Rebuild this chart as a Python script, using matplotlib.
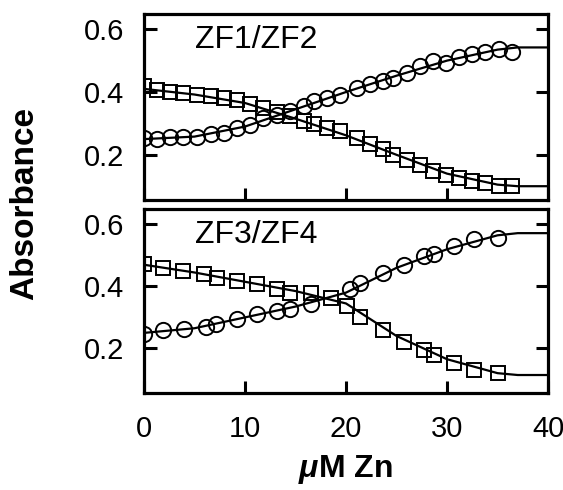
import matplotlib
matplotlib.use("Agg")
import matplotlib.pyplot as plt

plt.rcParams['font.family'] = ['Liberation Sans', 'DejaVu Sans']
plt.rcParams['mathtext.fontset'] = 'custom'
plt.rcParams['mathtext.it'] = 'Liberation Sans:italic:bold'
plt.rcParams['mathtext.rm'] = 'Liberation Sans:bold'

# ZF1/ZF2 titration (top panel)
zf12_circ_x = [0, 1.3, 2.6, 3.9, 5.2, 6.6, 7.9, 9.2, 10.5, 11.8, 13.2, 14.5, 15.8, 16.8,
               18.1, 19.4, 21.1, 22.4, 23.7, 24.7, 26.0, 27.3, 28.6, 29.9, 31.2, 32.5,
               33.8, 35.1, 36.4]
zf12_circ_y = [0.253, 0.25, 0.256, 0.256, 0.256, 0.266, 0.27, 0.285, 0.295, 0.318, 0.328,
               0.339, 0.355, 0.371, 0.382, 0.392, 0.414, 0.424, 0.435, 0.446, 0.462, 0.483,
               0.499, 0.494, 0.51, 0.52, 0.526, 0.536, 0.526]
zf12_sq_x = [0, 1.3, 2.6, 3.9, 5.2, 6.6, 7.9, 9.2, 10.5, 11.8, 13.2, 14.5, 15.8, 16.8,
             18.1, 19.4, 21.1, 22.4, 23.7, 24.7, 26.0, 27.3, 28.6, 29.9, 31.2, 32.5,
             33.8, 35.1, 36.4]
zf12_sq_y = [0.418, 0.405, 0.40, 0.398, 0.392, 0.387, 0.38, 0.374, 0.362, 0.35, 0.337,
             0.325, 0.307, 0.297, 0.286, 0.275, 0.255, 0.235, 0.218, 0.2, 0.183, 0.168,
             0.148, 0.135, 0.127, 0.118, 0.11, 0.1, 0.1]
zf12_fit_x = [0, 5, 10, 15, 20, 25, 30, 35, 37, 40]
zf12_fit_circ = [0.25, 0.258, 0.29, 0.345, 0.40, 0.452, 0.50, 0.535, 0.542, 0.542]
zf12_fit_sq = [0.41, 0.392, 0.365, 0.315, 0.262, 0.2, 0.14, 0.105, 0.1, 0.1]

# ZF3/ZF4 titration (bottom panel)
zf34_circ_x = [0, 1.9, 4.0, 6.1, 7.1, 9.2, 11.2, 13.2, 14.5, 16.5, 20.4, 21.4, 23.7, 25.7,
               27.7, 28.7, 30.7, 32.7, 35.0]
zf34_circ_y = [0.248, 0.258, 0.264, 0.268, 0.28, 0.296, 0.312, 0.322, 0.328, 0.344, 0.392,
               0.412, 0.444, 0.47, 0.498, 0.504, 0.53, 0.552, 0.556]
zf34_sq_x = [0, 1.9, 3.9, 5.9, 7.2, 9.2, 11.2, 13.2, 14.5, 16.5, 18.5, 20.1, 21.4, 23.7,
             25.7, 27.7, 28.7, 30.7, 32.7, 35.0]
zf34_sq_y = [0.471, 0.46, 0.45, 0.44, 0.428, 0.418, 0.407, 0.392, 0.38, 0.38, 0.364, 0.338,
             0.30, 0.258, 0.22, 0.194, 0.178, 0.152, 0.13, 0.12]
zf34_fit_x = [0, 5, 10, 15, 20, 25, 30, 35, 37, 40]
zf34_fit_circ = [0.25, 0.265, 0.30, 0.335, 0.38, 0.46, 0.52, 0.565, 0.572, 0.572]
zf34_fit_sq = [0.47, 0.445, 0.415, 0.385, 0.345, 0.24, 0.165, 0.12, 0.114, 0.114]

panels = [
    ("ZF1/ZF2", zf12_circ_x, zf12_circ_y, zf12_sq_x, zf12_sq_y, zf12_fit_x, zf12_fit_circ, zf12_fit_sq),
    ("ZF3/ZF4", zf34_circ_x, zf34_circ_y, zf34_sq_x, zf34_sq_y, zf34_fit_x, zf34_fit_circ, zf34_fit_sq),
]

fig = plt.figure(figsize=(5.63, 4.9), dpi=100)
ax_top = fig.add_axes([0.2558, 0.5918, 0.7176, 0.3806])
ax_bot = fig.add_axes([0.2558, 0.198, 0.7176, 0.3755])

for ax, (name, cx, cy, sx, sy, fx, fc, fs) in zip([ax_top, ax_bot], panels):
    ax.plot(fx, fc, color='black', lw=1.6)
    ax.plot(fx, fs, color='black', lw=1.6)
    ax.plot(cx, cy, 'o', ms=11, mfc='none', mec='black', mew=1.4)
    ax.plot(sx, sy, 's', ms=10, mfc='none', mec='black', mew=1.4)
    ax.set_xlim(0, 40)
    ax.set_ylim(0.056, 0.65)
    ax.set_xticks([0, 10, 20, 30, 40])
    ax.set_yticks([0.2, 0.4, 0.6])
    ax.set_yticklabels(['0.2', '0.4', '0.6'])
    ax.tick_params(direction='in', length=9, width=2.2, labelsize=21, pad=14,
                   right=True, top=False)
    for sp in ax.spines.values():
        sp.set_linewidth(2.3)
    ax.text(0.126, 0.94, name, transform=ax.transAxes, fontsize=23, va='top', ha='left')

ax_top.tick_params(labelbottom=False)
ax_bot.tick_params(axis='x', pad=16)

fig.text(25 / 563, 1 - 203 / 490, 'Absorbance', rotation=90, fontsize=24,
         fontweight='bold', ha='center', va='center')
fig.text(345 / 563, 1 - 469 / 490, r'$\mu$M Zn', fontsize=23, fontweight='bold',
         ha='center', va='center')

fig.savefig('out.png', dpi=100)
